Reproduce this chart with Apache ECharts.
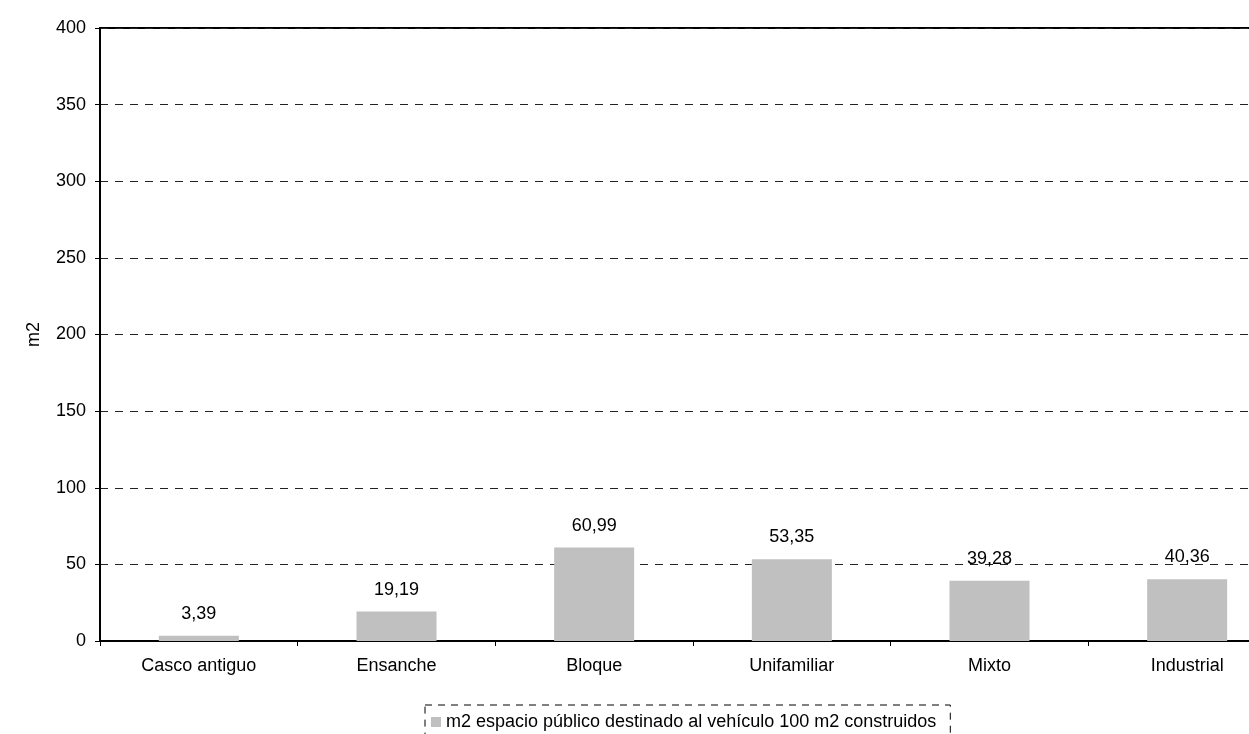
<!DOCTYPE html>
<html><head><meta charset="utf-8">
<script src="https://cdn.jsdelivr.net/npm/echarts@6/dist/echarts.min.js"></script>
<style>html,body{margin:0;padding:0;background:#fff;overflow:hidden;width:1249px;height:734px}#c{width:1300px;height:734px}</style>
</head><body><div id="c"></div>
<script>
var categories = ['Casco antiguo','Ensanche','Bloque','Unifamiliar','Mixto','Industrial'];
var values = [3.39, 19.19, 60.99, 53.35, 39.28, 40.36];
var seriesName = 'm2 espacio público destinado al vehículo 100 m2 construidos';
var yTicks = {min:0, max:400, interval:50};
var font = 'Liberation Sans, Arial, sans-serif';
var chart = echarts.init(document.getElementById('c'));
chart.setOption({
  animation:false,
  grid:{left:100, top:28, right:14, height:613, show:true, borderColor:'#000', borderWidth:2, backgroundColor:'transparent'},
  legend:{data:[seriesName], left:425, top:705, itemWidth:10, itemHeight:10, itemGap:4,
    icon:'rect',
    borderColor:'#000', borderWidth:1, borderType:[7,6], padding:[8,14,12,6],
    textStyle:{fontFamily:font, fontSize:18, color:'#000'}},
  xAxis:{type:'category', data:categories, boundaryGap:true,
    axisLine:{lineStyle:{color:'#000', width:2}},
    axisTick:{show:true, length:5, lineStyle:{color:'#000'}},
    axisLabel:{fontFamily:font, fontSize:18, color:'#000', margin:16}},
  yAxis:{type:'value', min:yTicks.min, max:yTicks.max, interval:yTicks.interval,
    name:'m2', nameLocation:'middle', nameGap:57, nameRotate:90,
    nameTextStyle:{fontFamily:font, fontSize:18, color:'#000'},
    axisLine:{show:true, lineStyle:{color:'#000', width:2}},
    axisTick:{show:true, length:5, lineStyle:{color:'#000'}},
    axisLabel:{fontFamily:font, fontSize:18, color:'#000', margin:14},
    splitLine:{lineStyle:{color:'#222', type:[8,7], width:1}}},
  series:[{name:seriesName, type:'bar', data:values, barWidth:80,
    itemStyle:{color:'#c0c0c0'},
    label:{show:true, position:'top', distance:13, fontFamily:font, fontSize:18, color:'#000',
      formatter:function(p){return p.value.toFixed(2).replace('.',',');}}}]
});
</script></body></html>
